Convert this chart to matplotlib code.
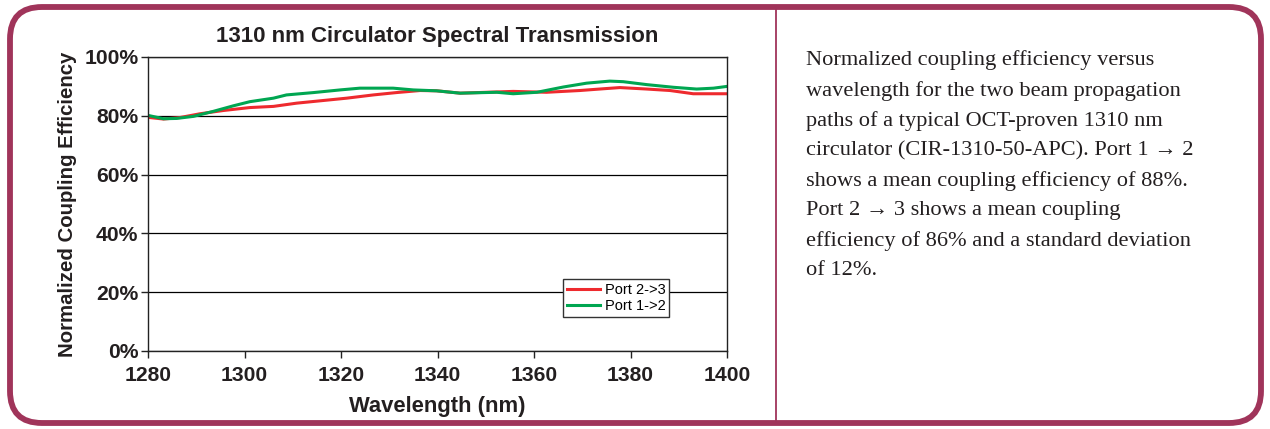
import matplotlib
matplotlib.use('Agg')
import matplotlib.pyplot as plt
from matplotlib.patches import FancyBboxPatch
import matplotlib.ticker as plticker

# wavelength (nm) and normalized coupling efficiency (%)
wl_12 = [1280.4, 1283.2, 1285.9, 1289.4, 1293.5, 1297.7, 1301.1, 1306.0, 1308.7,
         1314.3, 1319.8, 1323.9, 1330.8, 1335.0, 1339.8, 1344.7, 1352.3, 1355.7,
         1360.6, 1366.1, 1370.9, 1375.7, 1378.5, 1383.4, 1388.9, 1393.7, 1397.2, 1400.0]
eff_12 = [80.0, 79.0, 79.1, 79.8, 81.5, 83.4, 84.8, 86.0, 87.1,
          87.9, 88.8, 89.4, 89.4, 88.8, 88.5, 87.7, 88.0, 87.5,
          88.0, 89.8, 91.1, 91.8, 91.6, 90.6, 89.7, 89.1, 89.4, 90.0]

wl_23 = [1280.4, 1283.2, 1286.6, 1290.8, 1295.6, 1301.1, 1306.0, 1310.8, 1316.3,
         1321.2, 1326.7, 1331.5, 1336.4, 1339.8, 1344.7, 1355.7, 1362.6, 1369.5,
         1374.4, 1377.8, 1383.4, 1388.2, 1393.0, 1400.0]
eff_23 = [79.4, 78.9, 79.4, 80.7, 81.8, 82.8, 83.2, 84.3, 85.2,
          86.0, 87.1, 87.9, 88.6, 88.5, 87.7, 88.3, 88.0, 88.6,
          89.2, 89.6, 89.1, 88.6, 87.5, 87.5]

x_ticks = [1280, 1300, 1320, 1340, 1360, 1380, 1400]
y_ticks = [0, 20, 40, 60, 80, 100]

caption = ("Normalized coupling efficiency versus\n"
           "wavelength for the two beam propagation\n"
           "paths of a typical OCT-proven 1310 nm\n"
           "circulator (CIR-1310-50-APC). Port 1 \u2192 2\n"
           "shows a mean coupling efficiency of 88%.\n"
           "Port 2 \u2192 3 shows a mean coupling\n"
           "efficiency of 86% and a standard deviation\n"
           "of 12%.")

W, H = 1270, 429
frame_col = '#A0345A'
txt_col = '#231F20'
plt.rcParams['font.family'] = ['Liberation Sans', 'DejaVu Sans']

fig = plt.figure(figsize=(W / 100, H / 100), dpi=100)

# background layer in pixel units for the rounded frame
bg = fig.add_axes([0, 0, 1, 1])
bg.set_xlim(0, W)
bg.set_ylim(H, 0)
bg.axis('off')
bg.add_patch(FancyBboxPatch((10, 7), 1251, 416,
                            boxstyle='round,pad=0,rounding_size=32',
                            fc='white', ec=frame_col, lw=4.2))
bg.plot([776, 776], [7, 423], color=frame_col, lw=1.3)
bg.text(806, 50, caption, ha='left', va='top', fontsize=16.1, color=txt_col,
        family=['Liberation Serif', 'DejaVu Serif'], linespacing=1.72,
        multialignment='left')

ax = fig.add_axes([148 / W, 1 - 351 / H, 579 / W, 294 / H])
ax.plot(wl_23, eff_23, color='#EE2A2E', lw=2.2, label='Port 2->3')
ax.plot(wl_12, eff_12, color='#00A651', lw=2.2, label='Port 1->2')

ax.set_xlim(1280, 1400)
ax.set_ylim(0, 100)
ax.set_xticks(x_ticks)
ax.set_yticks(y_ticks)
ax.yaxis.set_major_formatter(plticker.FuncFormatter(lambda v, p: '%d%%' % v))
ax.grid(axis='y', color='black', lw=0.9)
ax.set_axisbelow(True)
for s in ax.spines.values():
    s.set_color('#222222')
    s.set_linewidth(1.0)
ax.tick_params(direction='out', length=5, width=1.0, colors='#222222',
               labelsize=15.2, labelcolor=txt_col)
ax.tick_params(axis='x', pad=6)
ax.tick_params(axis='y', pad=2)
for lab in ax.get_xticklabels() + ax.get_yticklabels():
    lab.set_fontweight('bold')

ax.set_title('1310 nm Circulator Spectral Transmission', fontsize=16,
             fontweight='bold', color=txt_col, pad=11)
ax.set_xlabel('Wavelength (nm)', fontsize=15.8, fontweight='bold', color=txt_col, labelpad=8)
ax.set_ylabel('Normalized Coupling Efficiency', fontsize=14.7, fontweight='bold',
              color=txt_col, labelpad=5)

leg = ax.legend(loc='lower left', bbox_to_anchor=(0.717, 0.116), fontsize=10.5,
                frameon=True, fancybox=False, edgecolor='#333333', framealpha=1,
                handlelength=2.3, handletextpad=0.3, borderpad=0.25,
                labelspacing=0.15, borderaxespad=0)
leg.get_frame().set_linewidth(1.0)

fig.savefig('out.png', dpi=100)
